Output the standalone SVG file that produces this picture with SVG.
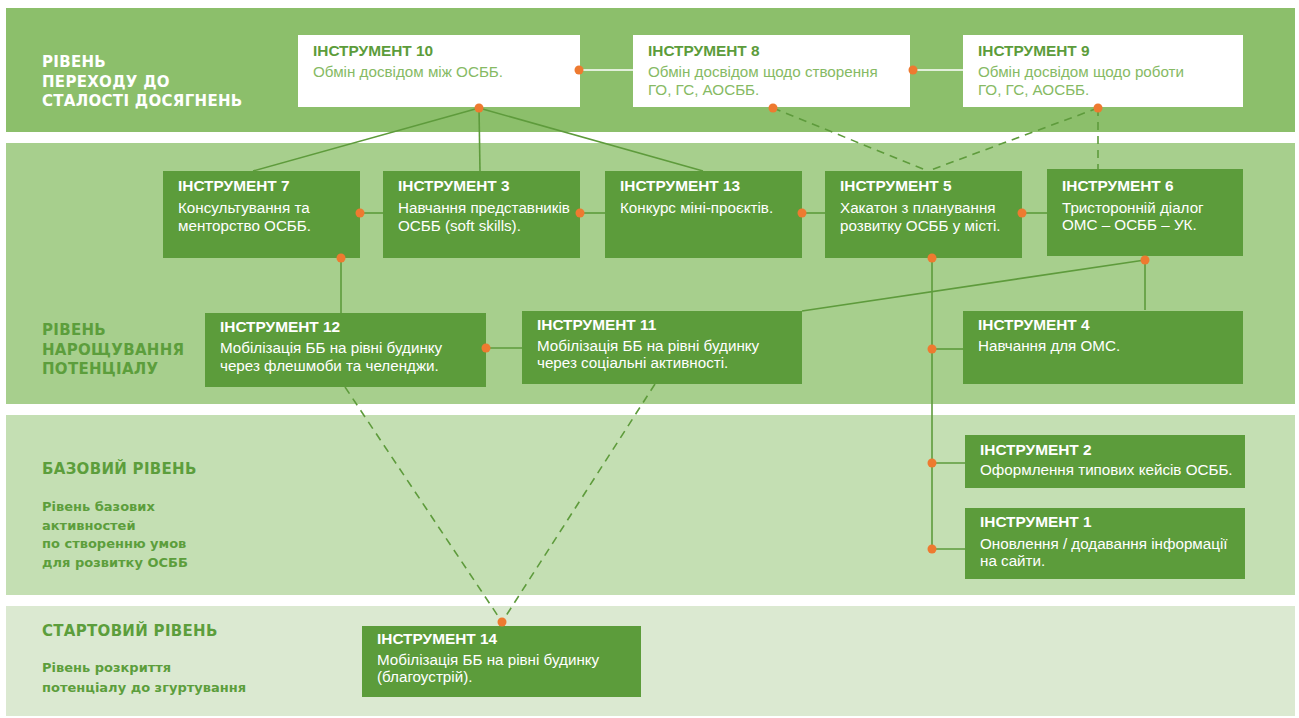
<svg xmlns="http://www.w3.org/2000/svg" width="1299" height="718" viewBox="0 0 1299 718">
<style>
.band1{fill:#8cbf6b}.band2{fill:#a7cf8d}.band3{fill:#c4dfb3}.band4{fill:#dbe9d1}
.nw{fill:#ffffff}.ng{fill:#5c9c3b}
.tt{font-family:"Liberation Sans",Arial,sans-serif;font-weight:bold;font-size:15.4px}
.td{font-family:"Liberation Sans",Arial,sans-serif;font-size:15.2px}
.tw{fill:#ffffff}.tg{fill:#5c9c3b}.tl{fill:#86ba64}
.lh{font-family:"DejaVu Sans",Verdana,sans-serif;font-weight:bold;font-size:15px;letter-spacing:0.3px}
.ls{font-family:"DejaVu Sans",Verdana,sans-serif;font-weight:bold;font-size:13px}
.lc{fill:#5c9e3c}
.ln{stroke:#5e9b3c;stroke-width:1.6;fill:none}
.lw{stroke:#ffffff;stroke-width:1.6;fill:none}
.dl{stroke:#5e9b3c;stroke-width:1.6;fill:none;stroke-dasharray:8 6}
.dot{fill:#ee7a30}
</style>
<rect width="1299" height="718" fill="#ffffff"/>
<g id="bands">
<rect class="band1" x="6" y="8" width="1289" height="124"/>
<rect class="band2" x="6" y="143" width="1289" height="261"/>
<rect class="band3" x="6" y="415" width="1289" height="180"/>
<rect class="band4" x="6" y="606" width="1289" height="110"/>
</g>
<g id="band-labels">
<text class="lh tw" x="42" y="67">РІВЕНЬ</text>
<text class="lh tw" x="42" y="87">ПЕРЕХОДУ ДО</text>
<text class="lh tw" x="42" y="106">СТАЛОСТІ ДОСЯГНЕНЬ</text>
<text class="lh lc" x="42" y="335">РІВЕНЬ</text>
<text class="lh lc" x="42" y="355">НАРОЩУВАННЯ</text>
<text class="lh lc" x="42" y="374">ПОТЕНЦІАЛУ</text>
<text class="lh lc" x="42" y="474">БАЗОВИЙ РІВЕНЬ</text>
<text class="ls lc" x="42" y="511">Рівень базових</text>
<text class="ls lc" x="42" y="530">активностей</text>
<text class="ls lc" x="42" y="548">по створенню умов</text>
<text class="ls lc" x="42" y="567">для розвитку ОСББ</text>
<text class="lh lc" x="42" y="636">СТАРТОВИЙ РІВЕНЬ</text>
<text class="ls lc" x="42" y="672">Рівень розкриття</text>
<text class="ls lc" x="42" y="692">потенціалу до згуртування</text>
</g>
<g id="connectors">
<line class="lw" x1="579" y1="70" x2="633" y2="70"/>
<line class="lw" x1="913" y1="70" x2="963" y2="70"/>
<line class="ln" x1="479" y1="108" x2="253" y2="171"/>
<line class="ln" x1="479" y1="108" x2="480" y2="171"/>
<line class="ln" x1="479" y1="108" x2="703" y2="171"/>
<line class="dl" x1="773" y1="108" x2="928" y2="171"/>
<line class="dl" x1="1098" y1="108" x2="928" y2="171"/>
<line class="dl" x1="1098" y1="108" x2="1098" y2="169"/>
<line class="ln" x1="360" y1="213" x2="383" y2="213"/>
<line class="ln" x1="580" y1="213" x2="605" y2="213"/>
<line class="ln" x1="802" y1="213" x2="825" y2="213"/>
<line class="ln" x1="1022" y1="213" x2="1047" y2="213"/>
<line class="ln" x1="341" y1="258" x2="341" y2="313"/>
<line class="ln" x1="1145" y1="260" x2="1145" y2="310"/>
<line class="ln" x1="1145" y1="260" x2="802" y2="311"/>
<line class="ln" x1="932" y1="258" x2="932" y2="549"/>
<line class="ln" x1="932" y1="349" x2="963" y2="349"/>
<line class="ln" x1="932" y1="463" x2="965" y2="463"/>
<line class="ln" x1="932" y1="549" x2="965" y2="549"/>
<line class="ln" x1="486" y1="348" x2="522" y2="348"/>
<line class="dl" x1="345" y1="387" x2="502" y2="622"/>
<line class="dl" x1="655" y1="384" x2="502" y2="622"/>
</g>
<g id="tool10"><rect class="nw" x="298" y="35" width="282" height="72"/>
<text class="tt tg" x="313" y="56">ІНСТРУМЕНТ 10</text>
<text class="td tl" x="313" y="77">Обмін досвідом між ОСББ.</text></g>
<g id="tool8"><rect class="nw" x="633" y="35" width="277" height="72"/>
<text class="tt tg" x="648" y="56">ІНСТРУМЕНТ 8</text>
<text class="td tl" x="648" y="77">Обмін досвідом щодо створення</text>
<text class="td tl" x="648" y="95">ГО, ГС, АОСББ.</text></g>
<g id="tool9"><rect class="nw" x="963" y="35" width="280" height="72"/>
<text class="tt tg" x="978" y="56">ІНСТРУМЕНТ 9</text>
<text class="td tl" x="978" y="77">Обмін досвідом щодо роботи</text>
<text class="td tl" x="978" y="95">ГО, ГС, АОСББ.</text></g>
<g id="tool7"><rect class="ng" x="163" y="171" width="197" height="87"/>
<text class="tt tw" x="178" y="191">ІНСТРУМЕНТ 7</text>
<text class="td tw" x="178" y="213">Консультування та</text>
<text class="td tw" x="178" y="231">менторство ОСББ.</text></g>
<g id="tool3"><rect class="ng" x="383" y="171" width="197" height="87"/>
<text class="tt tw" x="398" y="191">ІНСТРУМЕНТ 3</text>
<text class="td tw" x="398" y="213">Навчання представників</text>
<text class="td tw" x="398" y="231">ОСББ (soft skills).</text></g>
<g id="tool13"><rect class="ng" x="605" y="171" width="197" height="87"/>
<text class="tt tw" x="620" y="191">ІНСТРУМЕНТ 13</text>
<text class="td tw" x="620" y="213">Конкурс міні-проєктів.</text></g>
<g id="tool5"><rect class="ng" x="825" y="171" width="197" height="87"/>
<text class="tt tw" x="840" y="191">ІНСТРУМЕНТ 5</text>
<text class="td tw" x="840" y="213">Хакатон з планування</text>
<text class="td tw" x="840" y="231">розвитку ОСББ у місті.</text></g>
<g id="tool6"><rect class="ng" x="1047" y="169" width="196" height="87"/>
<text class="tt tw" x="1062" y="191">ІНСТРУМЕНТ 6</text>
<text class="td tw" x="1062" y="213">Тристоронній діалог</text>
<text class="td tw" x="1062" y="230">ОМС – ОСББ – УК.</text></g>
<g id="tool12"><rect class="ng" x="205" y="313" width="281" height="74"/>
<text class="tt tw" x="220" y="332">ІНСТРУМЕНТ 12</text>
<text class="td tw" x="220" y="353">Мобілізація ББ на рівні будинку</text>
<text class="td tw" x="220" y="371">через флешмоби та челенджи.</text></g>
<g id="tool11"><rect class="ng" x="522" y="311" width="280" height="73"/>
<text class="tt tw" x="537" y="330">ІНСТРУМЕНТ 11</text>
<text class="td tw" x="537" y="351">Мобілізація ББ на рівні будинку</text>
<text class="td tw" x="537" y="368">через соціальні активності.</text></g>
<g id="tool4"><rect class="ng" x="963" y="311" width="280" height="73"/>
<text class="tt tw" x="978" y="330">ІНСТРУМЕНТ 4</text>
<text class="td tw" x="978" y="351">Навчання для ОМС.</text></g>
<g id="tool2"><rect class="ng" x="965" y="435" width="280" height="53"/>
<text class="tt tw" x="980" y="455">ІНСТРУМЕНТ 2</text>
<text class="td tw" x="980" y="475">Оформлення типових кейсів ОСББ.</text></g>
<g id="tool1"><rect class="ng" x="965" y="508" width="280" height="71"/>
<text class="tt tw" x="980" y="527">ІНСТРУМЕНТ 1</text>
<text class="td tw" x="980" y="549">Оновлення / додавання інформації</text>
<text class="td tw" x="980" y="566">на сайти.</text></g>
<g id="tool14"><rect class="ng" x="362" y="626" width="279" height="71"/>
<text class="tt tw" x="377" y="644">ІНСТРУМЕНТ 14</text>
<text class="td tw" x="377" y="665">Мобілізація ББ на рівні будинку</text>
<text class="td tw" x="377" y="682">(благоустрій).</text></g>
<g id="dots">
<circle class="dot" cx="579" cy="70" r="4.5"/>
<circle class="dot" cx="913" cy="70" r="4.5"/>
<circle class="dot" cx="479" cy="108" r="4.5"/>
<circle class="dot" cx="773" cy="108" r="4.5"/>
<circle class="dot" cx="1098" cy="108" r="4.5"/>
<circle class="dot" cx="360" cy="213" r="4.5"/>
<circle class="dot" cx="580" cy="213" r="4.5"/>
<circle class="dot" cx="802" cy="213" r="4.5"/>
<circle class="dot" cx="1022" cy="213" r="4.5"/>
<circle class="dot" cx="341" cy="258" r="4.5"/>
<circle class="dot" cx="932" cy="258" r="4.5"/>
<circle class="dot" cx="1145" cy="260" r="4.5"/>
<circle class="dot" cx="486" cy="348" r="4.5"/>
<circle class="dot" cx="932" cy="349" r="4.5"/>
<circle class="dot" cx="932" cy="463" r="4.5"/>
<circle class="dot" cx="932" cy="549" r="4.5"/>
<circle class="dot" cx="502" cy="622" r="4.5"/>
</g>
</svg>
